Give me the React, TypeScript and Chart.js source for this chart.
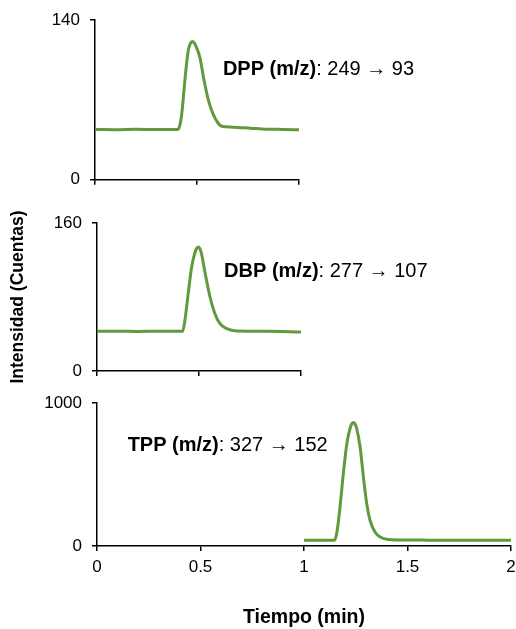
import { useEffect, useRef } from "react";
import { Chart, registerables } from "chart.js";

Chart.register(...registerables);

const FONT = "'Liberation Sans', Arial, Helvetica, sans-serif";
const LINE_COLOR = "#609a3d";

// DPP chromatogram (time in min, intensity in counts)
const dppTime = [0, 0.1, 0.2, 0.3, 0.407, 0.415, 0.424, 0.432, 0.44, 0.449, 0.458, 0.467, 0.477, 0.487, 0.499, 0.515, 0.534, 0.555, 0.58, 0.605, 0.621, 0.676, 0.76, 0.841, 0.922, 1.0];
const dppCounts = [44.2, 44.0, 44.3, 44.1, 44.2, 47.0, 56.0, 70.0, 86.0, 102.0, 114.0, 119.5, 121.3, 119.8, 115.5, 106.6, 87.7, 70.3, 57.2, 49.4, 47.0, 46.2, 45.3, 44.4, 44.2, 43.9];

// DBP chromatogram
const dbpTime = [0, 0.1, 0.2, 0.3, 0.42, 0.431, 0.447, 0.464, 0.48, 0.489, 0.497, 0.505, 0.513, 0.529, 0.554, 0.578, 0.603, 0.636, 0.685, 0.833, 1.0];
const dbpCounts = [42.9, 43.0, 42.8, 42.9, 42.9, 54.8, 83.7, 112.4, 128.0, 132.6, 134.0, 132.0, 126.0, 107.0, 80.0, 62.0, 51.2, 45.8, 43.2, 42.9, 42.2];

// TPP chromatogram
const tppTime = [1.0, 1.147, 1.158, 1.174, 1.19, 1.207, 1.223, 1.231, 1.239, 1.247, 1.255, 1.271, 1.287, 1.303, 1.319, 1.343, 1.368, 1.4, 1.464, 1.6, 1.8, 2.0];
const tppCounts = [40, 40, 87, 273, 506, 716, 825, 854, 863, 852, 820, 692, 482, 296, 180, 98, 63, 47, 42, 41, 40, 40];

// Axis limits
const yMaxima = [140, 160, 1000];
const xMaxima = [1, 1, 2];
const xStep = 0.5;

// Panel labels
const labelCompounds = ["DPP (m/z)", "DBP (m/z)", "TPP (m/z)"];
const labelTransitions = [": 249 \u2192 93", ": 277 \u2192 107", ": 327 \u2192 152"];
// label anchor in data units (time, counts)
const labelTimes = [0.627, 0.623, 0.148];
const labelCounts = [92.2, 101.6, 662];

const yTitle = "Intensidad (Cuentas)";
const xTitle = "Tiempo (min)";

const peakLabelPlugin = {
  id: "peakLabel",
  afterDatasetsDraw(chart: any, _args: any, opts: any) {
    const { ctx, scales } = chart;
    const px = scales.x.getPixelForValue(opts.t);
    const py = scales.y.getPixelForValue(opts.v);
    ctx.save();
    ctx.textAlign = "left";
    ctx.textBaseline = "alphabetic";
    ctx.fillStyle = "#000";
    ctx.font = `bold ${opts.size}px ${FONT}`;
    ctx.fillText(opts.bold, px, py);
    const w = ctx.measureText(opts.bold).width;
    ctx.font = `${opts.size}px ${FONT}`;
    ctx.fillText(opts.rest, px + w, py);
    ctx.restore();
  },
};

type PanelSpec = {
  times: number[];
  counts: number[];
  idx: number;
  width: number;
  height: number;
  padTop: number;
  padRight: number;
  yWidth: number;
  xHeight: number;
  showXLabels: boolean;
  showXTitle: boolean;
  showYTitle: boolean;
};

function buildConfig(p: PanelSpec): any {
  const axisLine = { display: true, color: "#000", width: 1.5 };
  const grid = { drawOnChartArea: false, drawTicks: true, tickLength: 5, color: "#000", lineWidth: 1.5 };
  return {
    type: "line",
    data: {
      datasets: [
        {
          data: p.times.map((t, i) => ({ x: t, y: p.counts[i] })),
          borderColor: LINE_COLOR,
          borderWidth: 3,
          pointRadius: 0,
          fill: false,
          cubicInterpolationMode: "monotone",
        },
      ],
    },
    options: {
      animation: false,
      responsive: false,
      events: [],
      layout: { padding: { top: p.padTop, right: p.padRight, bottom: 0, left: 0 } },
      plugins: {
        legend: { display: false },
        tooltip: { enabled: false },
        peakLabel: {
          t: labelTimes[p.idx],
          v: labelCounts[p.idx],
          bold: labelCompounds[p.idx],
          rest: labelTransitions[p.idx],
          size: 20,
        },
      },
      scales: {
        x: {
          type: "linear",
          min: 0,
          max: xMaxima[p.idx],
          afterFit: (s: any) => {
            s.height = p.xHeight;
            s.paddingLeft = 0;
            s.paddingRight = 0;
          },
          border: axisLine,
          grid,
          ticks: {
            display: p.showXLabels,
            stepSize: xStep,
            autoSkip: false,
            maxRotation: 0,
            padding: 6,
            color: "#000",
            font: { family: FONT, size: 17 },
            callback: (v: any) => String(v),
          },
          title: {
            display: p.showXTitle,
            text: xTitle,
            color: "#000",
            font: { family: FONT, size: 19.5, weight: "bold" },
            padding: { top: 0, bottom: 0 },
          },
        },
        y: {
          type: "linear",
          min: 0,
          max: yMaxima[p.idx],
          afterFit: (s: any) => {
            s.width = p.yWidth;
          },
          border: axisLine,
          grid,
          ticks: {
            stepSize: yMaxima[p.idx],
            padding: 10,
            color: "#000",
            font: { family: FONT, size: 17 },
            callback: (v: any) => String(v),
          },
          title: {
            display: p.showYTitle,
            text: yTitle,
            color: "#000",
            font: { family: FONT, size: 17.5, weight: "bold" },
            padding: { top: 8, bottom: 0 },
          },
        },
      },
    },
    plugins: [peakLabelPlugin],
  };
}

const panels: (PanelSpec & { top: number })[] = [
  { idx: 0, times: dppTime, counts: dppCounts, top: 0, width: 516, height: 200, padTop: 20, padRight: 217, yWidth: 95, xHeight: 19, showXLabels: false, showXTitle: false, showYTitle: false },
  { idx: 1, times: dbpTime, counts: dbpCounts, top: 200, width: 516, height: 200, padTop: 23, padRight: 215, yWidth: 97, xHeight: 29, showXLabels: false, showXTitle: false, showYTitle: true },
  { idx: 2, times: tppTime, counts: tppCounts, top: 380, width: 516, height: 249, padTop: 23, padRight: 5, yWidth: 97, xHeight: 83, showXLabels: true, showXTitle: true, showYTitle: false },
];

function Panel({ spec }: { spec: PanelSpec & { top: number } }) {
  const ref = useRef<HTMLCanvasElement | null>(null);
  useEffect(() => {
    if (!ref.current) return;
    const chart = new Chart(ref.current, buildConfig(spec));
    return () => chart.destroy();
  }, [spec]);
  return (
    <canvas
      ref={ref}
      width={spec.width}
      height={spec.height}
      style={{ position: "absolute", left: 0, top: spec.top, width: spec.width, height: spec.height }}
    />
  );
}

export default function App() {
  return (
    <div style={{ position: "absolute", left: 0, top: 0, width: 516, height: 629, background: "#fff", fontFamily: FONT }}>
      {panels.map((p) => (
        <Panel key={p.idx} spec={p} />
      ))}
    </div>
  );
}
